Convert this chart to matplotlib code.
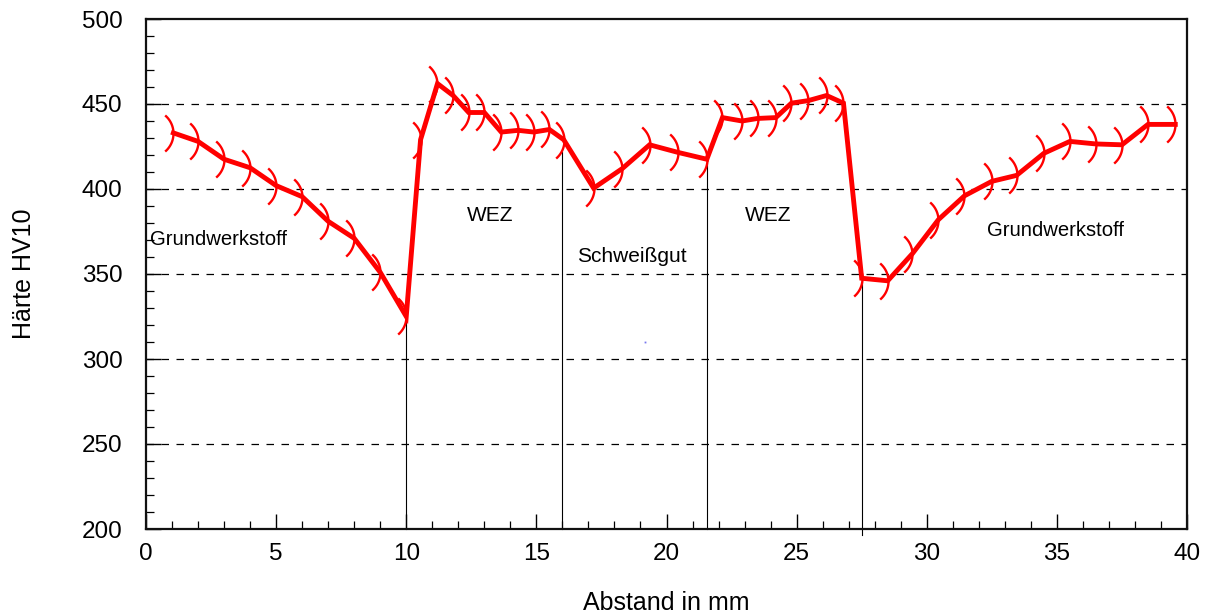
import numpy as np
import matplotlib
matplotlib.use("Agg")
import matplotlib.pyplot as plt
from matplotlib.path import Path
from matplotlib.ticker import MultipleLocator

plt.rcParams['font.family'] = ['Liberation Sans', 'DejaVu Sans']

# --- data -----------------------------------------------------------
abstand = [1.05, 2.0, 3.0, 4.0, 5.0, 6.0, 7.0, 8.0, 9.0, 10.0,
           10.55, 11.2, 11.8, 12.4, 13.0, 13.65, 14.3, 14.9, 15.5, 16.05,
           17.2, 18.3, 19.35, 20.45, 21.55,
           22.15, 22.9, 23.5, 24.2, 24.8, 25.45, 26.15, 26.8,
           27.5, 28.5, 29.45, 30.45, 31.45, 32.5, 33.45, 34.5, 35.5,
           36.5, 37.5, 38.5, 39.55]
haerte = [433, 428, 417.5, 412.5, 402, 395.5, 381, 371, 351, 325,
          429, 462, 455, 445, 445, 433.5, 434.5, 433.5, 435, 429,
          400.5, 412, 426, 421.5, 417.5,
          442, 440, 441.5, 442, 450.5, 452, 455, 450.5,
          347.5, 346, 362, 382, 396, 404.5, 408, 421, 428,
          426.5, 426, 438, 438]

# zone boundaries (x, top of line in HV)
grenzen_x = [10.0, 16.0, 21.55, 27.5]
grenzen_top = [325, 422, 417.5, 347.5]
grenzen_bottom = [200, 200, 200, 196.5]

zonen_text = ["Grundwerkstoff", "WEZ", "Schweißgut", "WEZ", "Grundwerkstoff"]
zonen_x = [0.15, 12.33, 16.56, 23.0, 32.3]
zonen_y = [370.5, 384.5, 360, 384.5, 375.5]
zonen_size = [14.6, 15, 15, 15, 14.6]

artefakt_x = [19.17]
artefakt_y = [310]

x_ticks = [0, 5, 10, 15, 20, 25, 30, 35, 40]
y_ticks = [200, 250, 300, 350, 400, 450, 500]
grid_y = [250, 300, 350, 400, 450]

# --- marker: ")" arc with bulge at the data point --------------------
R = 23.0
th = np.radians(np.linspace(-49.5, 49.5, 30))
verts = np.column_stack([-R + R * np.cos(th), R * np.sin(th)])
codes = [Path.MOVETO] + [Path.LINETO] * (len(verts) - 1)
arc = Path(verts, codes)

# --- figure ---------------------------------------------------------
fig = plt.figure(figsize=(12.09, 6.16), dpi=100)
ax = fig.add_axes([146 / 1209, 1 - 529 / 616, (1187 - 146) / 1209, (529 - 19) / 616])

ax.set_xlim(0, 40)
ax.set_ylim(200, 500)

for gy in grid_y:
    ax.axhline(gy, color='black', lw=0.9, ls=(0, (6, 6)), zorder=1)

for gx, gt, gb in zip(grenzen_x, grenzen_top, grenzen_bottom):
    ax.plot([gx, gx], [gb, gt], color='black', lw=0.8, zorder=2, clip_on=False)

ax.plot(abstand, haerte, color='#ff0000', lw=3.5, zorder=3,
        solid_joinstyle='miter')
ax.plot(abstand, haerte, ls='none', marker=arc, markersize=26,
        markerfacecolor='none', markeredgecolor='#ff0000',
        markeredgewidth=1.7, zorder=4)

ax.plot(artefakt_x, artefakt_y, ls='none', marker='s', markersize=1.3,
        color='#7777ee', markeredgewidth=0, zorder=2)

for t, tx, ty, fs in zip(zonen_text, zonen_x, zonen_y, zonen_size):
    ax.text(tx, ty, t, fontsize=fs, ha='left', va='center', color='black')

ax.set_xticks(x_ticks)
ax.set_yticks(y_ticks)
ax.xaxis.set_minor_locator(MultipleLocator(1))
ax.yaxis.set_minor_locator(MultipleLocator(10))
ax.tick_params(which='major', direction='in', length=11, width=1.0,
               labelsize=17.5, colors='black')
ax.tick_params(which='minor', direction='in', length=5.5, width=0.9)
ax.tick_params(axis='x', which='major', pad=10)
ax.tick_params(axis='y', which='major', pad=17)

for s in ax.spines.values():
    s.set_linewidth(1.6)
    s.set_color('#111111')

ax.set_xlabel("Abstand in mm", fontsize=18, labelpad=19)
ax.set_ylabel("Härte HV10", fontsize=18, labelpad=33)

fig.savefig("out.png", dpi=100)
